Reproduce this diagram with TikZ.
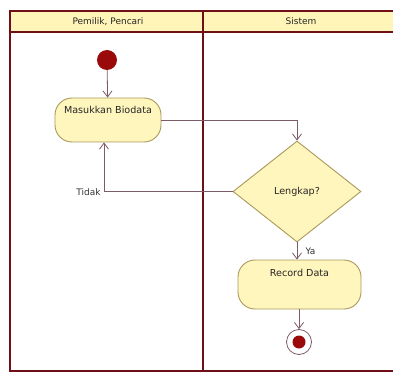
\documentclass[tikz,border=0pt]{standalone}
\usepackage{fontspec}
\setmainfont{DejaVu Sans}
\usetikzlibrary{shapes.geometric,arrows.meta}
\definecolor{frame}{HTML}{6E1016}
\definecolor{hdr}{HTML}{FFF5B8}
\definecolor{actfill}{HTML}{FFF6BE}
\definecolor{actline}{HTML}{A8985A}
\definecolor{conn}{HTML}{7C5A68}
\definecolor{dot}{HTML}{9A0A0A}
\tikzset{
  lane/.style={draw=frame, line width=1.8pt},
  act/.style={draw=actline, fill=actfill, line width=0.9pt, rounded corners=17pt,
    inner sep=4pt, text height=12pt, font=\fontsize{9.6}{11}\selectfont, text=black!85},
  dec/.style={diamond, draw=actline, fill=actfill, line width=0.9pt, inner sep=0pt,
    minimum width=128pt, minimum height=101pt, font=\fontsize{9.6}{11}\selectfont, text=black!85},
  flow/.style={draw=conn, line width=0.8pt, -{Straight Barb[length=6pt,width=9pt]}},
  lbl/.style={font=\fontsize{9}{10}\selectfont, text=black!80},
  hdrtext/.style={font=\fontsize{9}{10}\selectfont, text=black!85}
}
\begin{document}
\begin{tikzpicture}[x=1pt,y=-1pt]
\useasboundingbox (0,0) rectangle (393,374);
% swimlanes
\fill[hdr] (10,11) rectangle (395,32);
\draw[lane] (395,11) -- (10,11) -- (10,371) -- (395,371);
\draw[draw=frame, line width=1.2pt] (10,32) -- (395,32);
\draw[lane] (203,11) -- (203,371);
\node[hdrtext] (h1) at (108,21.5) {Pemilik, Pencari};
\node[hdrtext] (h2) at (301,21.5) {Sistem};
% nodes
\node[circle, fill=dot, minimum size=20pt, inner sep=0pt] (start) at (107,60) {};
\node[act, minimum width=106pt, minimum height=44pt, text depth=24pt] (bio) at (108,120) {Masukkan Biodata};
\node[dec] (dec) at (297,191.5) {\raisebox{-3pt}{Lengkap?}};
\node[act, minimum width=123pt, minimum height=49pt, text depth=29pt] (rec) at (299.5,284.5) {Record Data};
\node[circle, draw=conn, fill=white, line width=0.8pt, minimum size=25pt, inner sep=0pt] (end) at (299,342) {};
\node[circle, fill=dot, minimum size=13pt, inner sep=0pt] (endin) at (end.center) {};
% connectors
\coordinate (tk) at (104,191.5);
\draw[flow] (start) -- (bio);
\draw[flow] (bio.east) -| (dec.north);
\draw[flow] (dec.west) -- (tk) -- (tk |- bio.south);
\node[lbl, anchor=east] (tidak) at (104,192) {Tidak};
\draw[flow] (dec.south) -- (rec.north -| dec.south);
\node[lbl, anchor=west] (ya) at (302,251) {Ya};
\draw[flow] (rec.south -| end.north) -- (end.north);
\end{tikzpicture}
\end{document}
